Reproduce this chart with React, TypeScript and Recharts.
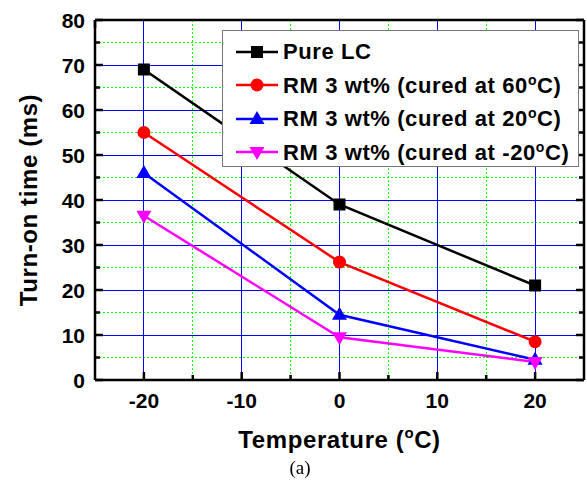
import React from 'react';
import { LineChart, Line, XAxis, YAxis, CartesianGrid, Legend } from 'recharts';

const temps = [-20, 0, 20];
const pureLC = [69, 39, 21];
const cured60 = [55, 26.2, 8.5];
const cured20 = [46, 14.5, 4.5];
const curedMinus20 = [36.5, 9.5, 4];

const xTicks = [-20, -15, -10, -5, 0, 5, 10, 15, 20];
const yTicks = [0, 5, 10, 15, 20, 25, 30, 35, 40, 45, 50, 55, 60, 65, 70, 75, 80];
const xMajorGrid = [-20, -10, 0, 10, 20];
const xMinorGrid = [-15, -5, 5, 15];
const yMajorGrid = [10, 20, 30, 40, 50, 60, 70];
const yMinorGrid = [5, 15, 25, 35, 45, 55, 65, 75];

const data = temps.map((t, i) => ({
    t,
    pure: pureLC[i],
    c60: cured60[i],
    c20: cured20[i],
    cm20: curedMinus20[i],
}));

const series = [
    { key: 'pure', name: 'Pure LC', color: '#000000', shape: 'square' },
    { key: 'c60', name: 'RM 3 wt% (cured at 60', color: '#ff0000', shape: 'circle' },
    { key: 'c20', name: 'RM 3 wt% (cured at 20', color: '#0000ff', shape: 'up' },
    { key: 'cm20', name: 'RM 3 wt% (cured at -20', color: '#ff00ff', shape: 'down' },
];

const FONT = '"Liberation Sans", Arial, sans-serif';

const Marker = ({ cx, cy, shape, color }: any) => {
    if (shape === 'square') return <rect x={cx - 6} y={cy - 6} width={12} height={12} fill={color} />;
    if (shape === 'circle') return <circle cx={cx} cy={cy} r={6.5} fill={color} />;
    if (shape === 'up') return <path d={`M${cx},${cy - 8} L${cx + 7.5},${cy + 5} L${cx - 7.5},${cy + 5} Z`} fill={color} />;
    return <path d={`M${cx},${cy + 8} L${cx + 7.5},${cy - 5} L${cx - 7.5},${cy - 5} Z`} fill={color} />;
};

const major = (v: number) => v % 10 === 0;

const BottomTick = ({ x, y, payload }: any) => (
    <g>
        <line x1={x} x2={x} y1={y} y2={y - (major(payload.value) ? 8 : 5)} stroke="#000" strokeWidth={2.5} />
        {major(payload.value) && (
            <text x={x} y={y + 28} textAnchor="middle" fontFamily={FONT} fontWeight="bold" fontSize={21} fill="#000">
                {payload.value}
            </text>
        )}
    </g>
);

const TopTick = ({ x, y, payload }: any) => (
    <line x1={x} x2={x} y1={y} y2={y + (major(payload.value) ? 8 : 5)} stroke="#000" strokeWidth={2.5} />
);

const LeftTick = ({ x, y, payload }: any) => (
    <g>
        <line x1={x} x2={x + (major(payload.value) ? 8 : 5)} y1={y} y2={y} stroke="#000" strokeWidth={2.5} />
        {major(payload.value) && (
            <text x={x - 10} y={y + 7.5} textAnchor="end" fontFamily={FONT} fontWeight="bold" fontSize={21} fill="#000">
                {payload.value}
            </text>
        )}
    </g>
);

const RightTick = ({ x, y, payload }: any) => (
    <line x1={x} x2={x - (major(payload.value) ? 8 : 5)} y1={y} y2={y} stroke="#000" strokeWidth={2.5} />
);

const renderLegend = () => (
    <div
        style={{
            width: 357,
            height: 137,
            background: '#fff',
            border: '1.5px solid #777',
            fontFamily: FONT,
            fontWeight: 'bold',
            fontSize: 22,
            letterSpacing: 0.6,
            boxSizing: 'border-box',
            paddingTop: 4,
        }}
    >
        {series.map((s) => (
            <div key={s.key} style={{ display: 'flex', alignItems: 'center', height: 33.5 }}>
                <svg width={60} height={20} style={{ marginLeft: 12 }}>
                    <line x1={1} x2={43} y1={10} y2={10} stroke={s.color} strokeWidth={2.5} />
                    <Marker cx={22} cy={10} shape={s.shape} color={s.color} />
                </svg>
                <span style={{ marginLeft: -12, whiteSpace: 'nowrap', color: '#000' }}>
                    {s.name}
                    {s.key !== 'pure' && (
                        <>
                            <sup style={{ fontSize: 14 }}>o</sup>C)
                        </>
                    )}
                </span>
            </div>
        ))}
    </div>
);

const YTitle = ({ viewBox }: any) => {
    const cx = 28;
    const cy = viewBox.y + viewBox.height / 2;
    return (
        <text
            x={cx}
            y={cy}
            transform={`rotate(-90, ${cx}, ${cy})`}
            textAnchor="middle"
            dominantBaseline="central"
            fontFamily={FONT}
            fontWeight="bold"
            fontSize={24}
            letterSpacing={0.6}
            fill="#000"
        >
            Turn-on time (ms)
        </text>
    );
};

const XTitle = ({ viewBox }: any) => {
    const cx = viewBox.x + viewBox.width / 2;
    return (
        <text x={cx} y={448} textAnchor="middle" fontFamily={FONT} fontWeight="bold" fontSize={24} letterSpacing={0.6} fill="#000">
            Temperature (<tspan dy={-10} fontSize={15}>o</tspan>
            <tspan dy={10}>C)</tspan>
        </text>
    );
};

const App = () => {
    return (
        <div style={{ position: 'fixed', left: 0, top: 0, width: 587, height: 489, background: '#fff' }}>
            <LineChart width={587} height={489} data={data} margin={{ top: 19, right: 0, left: 0, bottom: 39 }}>
                <CartesianGrid
                    horizontalValues={yMinorGrid}
                    verticalValues={xMinorGrid}
                    stroke="#00ff00"
                    strokeDasharray="2 2"
                    strokeWidth={1}
                    shapeRendering="crispEdges"
                />
                <CartesianGrid
                    horizontalValues={yMajorGrid}
                    verticalValues={xMajorGrid}
                    stroke="#0000ff"
                    strokeWidth={1}
                    shapeRendering="crispEdges"
                />
                <XAxis
                    dataKey="t"
                    type="number"
                    domain={[-25, 25]}
                    ticks={xTicks}
                    interval={0}
                    height={70}
                    tickSize={0}
                    tickMargin={0}
                    tickLine={false}
                    axisLine={{ stroke: '#000', strokeWidth: 2.5 }}
                    tick={<BottomTick />}
                    label={<XTitle />}
                />
                <XAxis
                    xAxisId="top"
                    orientation="top"
                    type="number"
                    domain={[-25, 25]}
                    allowDataOverflow
                    ticks={xTicks}
                    interval={0}
                    height={1}
                    tickSize={0}
                    tickMargin={0}
                    tickLine={false}
                    axisLine={{ stroke: '#000', strokeWidth: 2.5 }}
                    tick={<TopTick />}
                />
                <YAxis
                    type="number"
                    domain={[0, 80]}
                    ticks={yTicks}
                    interval={0}
                    width={95}
                    tickSize={0}
                    tickMargin={0}
                    tickLine={false}
                    axisLine={{ stroke: '#000', strokeWidth: 2.5 }}
                    tick={<LeftTick />}
                    label={<YTitle />}
                />
                <YAxis
                    yAxisId="right"
                    orientation="right"
                    type="number"
                    domain={[0, 80]}
                    allowDataOverflow
                    ticks={yTicks}
                    interval={0}
                    width={3}
                    tickSize={0}
                    tickMargin={0}
                    tickLine={false}
                    axisLine={{ stroke: '#000', strokeWidth: 2.5 }}
                    tick={<RightTick />}
                />
                <Legend
                    layout="vertical"
                    align="center"
                    verticalAlign="middle"
                    content={renderLegend}
                    wrapperStyle={{ left: 222, top: 30, width: 357, height: 137 }}
                />
                {series.map((s) => (
                    <Line
                        key={s.key}
                        dataKey={s.key}
                        name={s.name}
                        stroke={s.color}
                        strokeWidth={2.5}
                        isAnimationActive={false}
                        dot={(p: any) => <Marker key={`${s.key}-${p.index}`} cx={p.cx} cy={p.cy} shape={s.shape} color={s.color} />}
                        activeDot={false}
                    />
                ))}
            </LineChart>
            <div
                style={{
                    position: 'absolute',
                    left: 0,
                    width: 600,
                    top: 457,
                    textAlign: 'center',
                    fontFamily: '"Liberation Serif", "Times New Roman", serif',
                    fontSize: 19,
                    color: '#000',
                }}
            >
                (a)
            </div>
        </div>
    );
};

export default App;
